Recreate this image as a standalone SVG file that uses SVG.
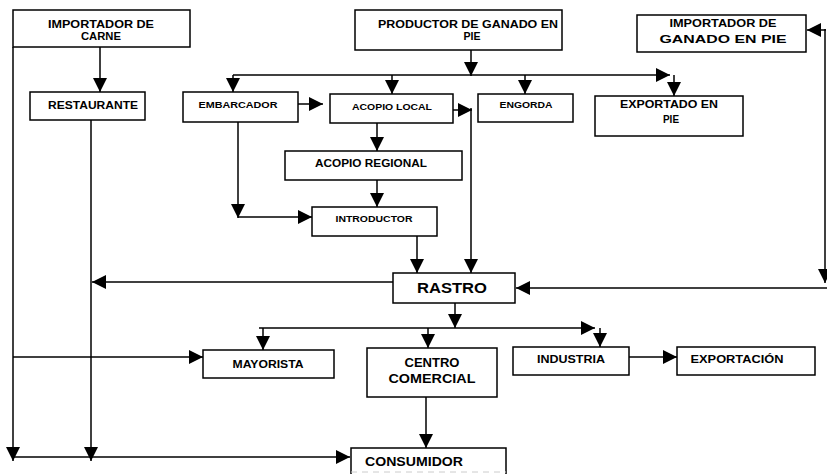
<svg xmlns="http://www.w3.org/2000/svg" width="827" height="474" viewBox="0 0 827 474">
<style>
.box{fill:#fff;stroke:#000;stroke-width:1.5}
.t{font-family:"Liberation Sans",Arial,sans-serif;font-weight:bold;fill:#000;text-anchor:middle}
.c{fill:none;stroke:#000;stroke-width:1.5}
.a{marker-end:url(#ah)}
</style>
<defs>
<marker id="ah" markerUnits="userSpaceOnUse" markerWidth="14" markerHeight="14" refX="14" refY="7" orient="auto" viewBox="0 0 14 14">
<path d="M0,0 L14,7 L0,14 Z" fill="#000"/>
</marker>
</defs>
<rect width="827" height="474" fill="#fff"/>

<g id="connectors">
<line class="c a" x1="100" y1="47" x2="100" y2="92"/>
<line class="c a" x1="13" y1="47" x2="13" y2="461"/>
<line class="c a" x1="91" y1="120" x2="91" y2="461"/>
<line class="c a" x1="13" y1="457" x2="350" y2="457"/>
<line class="c a" x1="13" y1="357" x2="203" y2="357"/>
<line class="c a" x1="393" y1="282" x2="92" y2="282"/>
<line class="c a" x1="471" y1="50" x2="471" y2="76"/>
<line class="c a" x1="233" y1="75" x2="670" y2="75"/>
<line class="c a" x1="674" y1="75" x2="674" y2="96"/>
<line class="c a" x1="233" y1="75" x2="233" y2="92"/>
<line class="c a" x1="392" y1="75" x2="392" y2="94"/>
<line class="c a" x1="525" y1="75" x2="525" y2="94"/>
<line class="c a" x1="298" y1="104" x2="323" y2="104"/>
<line class="c a" x1="453" y1="110" x2="472" y2="110"/>
<line class="c a" x1="471" y1="108" x2="471" y2="273"/>
<line class="c a" x1="377" y1="123" x2="377" y2="151"/>
<line class="c a" x1="377" y1="180" x2="377" y2="207"/>
<line class="c a" x1="238" y1="122" x2="238" y2="218"/>
<line class="c a" x1="238" y1="217" x2="312" y2="217"/>
<line class="c a" x1="417" y1="236" x2="417" y2="273"/>
<line class="c a" x1="455" y1="303" x2="455" y2="328"/>
<line class="c a" x1="259" y1="328" x2="595" y2="328"/>
<line class="c a" x1="600" y1="328" x2="600" y2="347"/>
<line class="c a" x1="263" y1="328" x2="263" y2="350"/>
<line class="c a" x1="428" y1="328" x2="428" y2="348"/>
<line class="c a" x1="629" y1="357" x2="677" y2="357"/>
<line class="c a" x1="426" y1="397" x2="426" y2="448"/>
<line class="c a" x1="825" y1="29" x2="825" y2="283"/>
<line class="c a" x1="826" y1="30" x2="807" y2="30"/>
<line class="c a" x1="827" y1="288" x2="516" y2="288"/>
</g>

<g id="importador-carne">
<rect class="box" x="13" y="10" width="177" height="37"/>
<text class="t" x="101" y="28" font-size="11" textLength="106" lengthAdjust="spacingAndGlyphs">IMPORTADOR DE</text>
<text class="t" x="101" y="40" font-size="11" textLength="40" lengthAdjust="spacingAndGlyphs">CARNE</text>
</g>
<g id="restaurante">
<rect class="box" x="30" y="92" width="115" height="28"/>
<text class="t" x="93" y="109" font-size="11" textLength="90" lengthAdjust="spacingAndGlyphs">RESTAURANTE</text>
</g>
<g id="productor">
<rect class="box" x="355" y="10" width="207" height="40"/>
<text class="t" x="468" y="28" font-size="11" textLength="180" lengthAdjust="spacingAndGlyphs">PRODUCTOR DE GANADO EN</text>
<text class="t" x="472" y="40" font-size="11" textLength="17" lengthAdjust="spacingAndGlyphs">PIE</text>
</g>
<g id="importador-ganado">
<rect class="box" x="637" y="15" width="169" height="37"/>
<text class="t" x="723" y="27" font-size="10.5" textLength="107" lengthAdjust="spacingAndGlyphs">IMPORTADOR DE</text>
<text class="t" x="723" y="43" font-size="10.5" textLength="127" lengthAdjust="spacingAndGlyphs">GANADO EN PIE</text>
</g>
<g id="embarcador">
<rect class="box" x="183" y="92" width="115" height="30"/>
<text class="t" x="238" y="108" font-size="9.5" textLength="79" lengthAdjust="spacingAndGlyphs">EMBARCADOR</text>
</g>
<g id="acopio-local">
<rect class="box" x="330" y="94" width="123" height="29"/>
<text class="t" x="392" y="110" font-size="9.5" textLength="80" lengthAdjust="spacingAndGlyphs">ACOPIO LOCAL</text>
</g>
<g id="engorda">
<rect class="box" x="478" y="94" width="95" height="28"/>
<text class="t" x="526" y="108" font-size="9.5" textLength="53" lengthAdjust="spacingAndGlyphs">ENGORDA</text>
</g>
<g id="exportado">
<rect class="box" x="595" y="96" width="148" height="40"/>
<text class="t" x="669" y="108" font-size="11" textLength="98" lengthAdjust="spacingAndGlyphs">EXPORTADO EN</text>
<text class="t" x="671" y="123" font-size="11" textLength="16" lengthAdjust="spacingAndGlyphs">PIE</text>
</g>
<g id="acopio-regional">
<rect class="box" x="285" y="151" width="177" height="29"/>
<text class="t" x="371" y="167" font-size="11" textLength="112" lengthAdjust="spacingAndGlyphs">ACOPIO REGIONAL</text>
</g>
<g id="introductor">
<rect class="box" x="312" y="207" width="125" height="29"/>
<text class="t" x="374" y="222" font-size="9" textLength="77" lengthAdjust="spacingAndGlyphs">INTRODUCTOR</text>
</g>
<g id="rastro">
<rect class="box" x="393" y="273" width="122" height="30"/>
<text class="t" x="452" y="293" font-size="14.5" textLength="70" lengthAdjust="spacingAndGlyphs">RASTRO</text>
</g>
<g id="mayorista">
<rect class="box" x="203" y="350" width="131" height="28"/>
<text class="t" x="268" y="368" font-size="10.5" textLength="71" lengthAdjust="spacingAndGlyphs">MAYORISTA</text>
</g>
<g id="centro-comercial">
<rect class="box" x="367" y="348" width="130" height="49"/>
<text class="t" x="432" y="367" font-size="12.5" textLength="55" lengthAdjust="spacingAndGlyphs">CENTRO</text>
<text class="t" x="432" y="383" font-size="12.5" textLength="87" lengthAdjust="spacingAndGlyphs">COMERCIAL</text>
</g>
<g id="industria">
<rect class="box" x="513" y="347" width="116" height="28"/>
<text class="t" x="571" y="363" font-size="10.5" textLength="68" lengthAdjust="spacingAndGlyphs">INDUSTRIA</text>
</g>
<g id="exportacion">
<rect class="box" x="677" y="347" width="138" height="28"/>
<text class="t" x="737" y="363" font-size="10.5" textLength="93" lengthAdjust="spacingAndGlyphs">EXPORTACIÓN</text>
</g>
<g id="consumidor">
<path class="c" d="M351,474 V448 H506 V474"/>
<line x1="351" y1="472" x2="506" y2="472" stroke="#ccc" stroke-width="1" stroke-dasharray="6,5"/>
<text class="t" x="365" y="466" font-size="12.5" textLength="98" lengthAdjust="spacingAndGlyphs" style="text-anchor:start">CONSUMIDOR</text>
</g>
</svg>
